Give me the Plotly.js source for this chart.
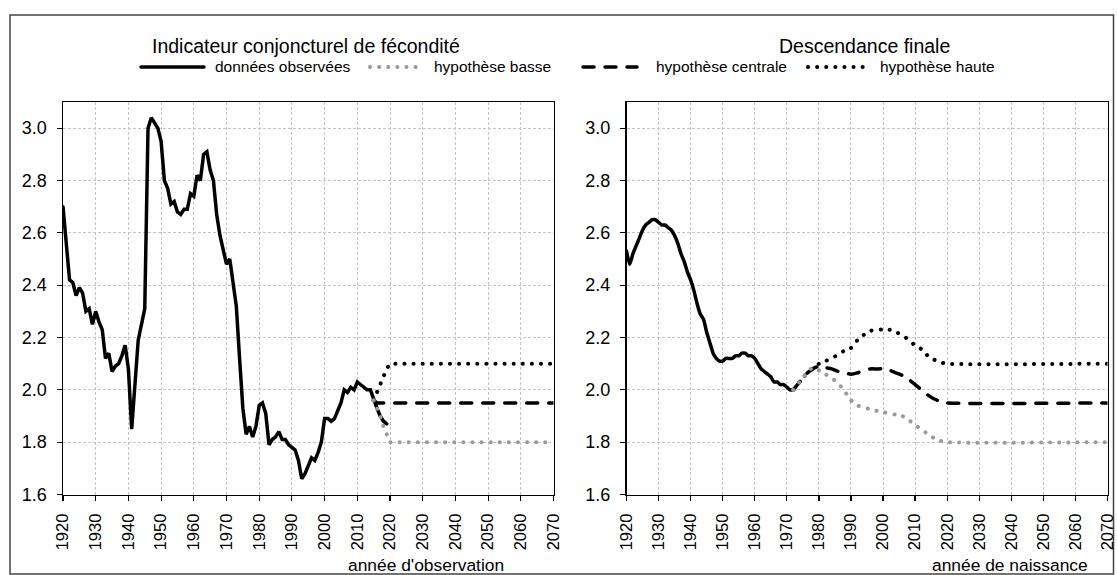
<!DOCTYPE html>
<html>
<head>
<meta charset="utf-8">
<script src="https://cdn.plot.ly/plotly-3.0.1.min.js"></script>
<style>
  html, body { margin: 0; padding: 0; background: #fff; }
  #chart { width: 1117px; height: 575px; }
  .scatterlayer .js-line { stroke-linecap: round; }
  .shapelayer path { stroke-linecap: round; }
</style>
</head>
<body>
<div id="chart"></div>
<script>
// ---------- Data: Indicateur conjoncturel de fécondité (année d'observation) ----------
const icfYears = [1920,1921,1922,1923,1924,1925,1926,1927,1928,1929,
  1930,1931,1932,1933,1934,1935,1936,1937,1938,1939,
  1940,1941,1942,1943,1944,1945,1946,1947,1948,1949,
  1950,1951,1952,1953,1954,1955,1956,1957,1958,1959,
  1960,1961,1962,1963,1964,1965,1966,1967,1968,1969,
  1970,1971,1972,1973,1974,1975,1976,1977,1978,1979,
  1980,1981,1982,1983,1984,1985,1986,1987,1988,1989,
  1990,1991,1992,1993,1994,1995,1996,1997,1998,1999,
  2000,2001,2002,2003,2004,2005,2006,2007,2008,2009,
  2010,2011,2012,2013,2014,2015,2016,2017,2018,2019];
const icfObserved = [2.70,2.56,2.42,2.41,2.36,2.39,2.37,2.30,2.31,2.25,
  2.30,2.26,2.23,2.12,2.14,2.07,2.09,2.10,2.13,2.17,
  2.08,1.85,2.00,2.19,2.25,2.31,3.00,3.04,3.02,3.00,
  2.95,2.80,2.77,2.71,2.72,2.68,2.67,2.69,2.69,2.75,
  2.74,2.82,2.80,2.90,2.91,2.84,2.80,2.67,2.59,2.53,
  2.48,2.50,2.42,2.32,2.12,1.93,1.83,1.86,1.82,1.86,
  1.94,1.95,1.91,1.79,1.81,1.82,1.84,1.81,1.81,1.79,
  1.78,1.77,1.73,1.66,1.68,1.71,1.74,1.73,1.76,1.80,
  1.89,1.89,1.88,1.89,1.92,1.95,2.00,1.99,2.01,2.00,
  2.03,2.02,2.01,2.00,2.00,1.96,1.93,1.90,1.88,1.87];

const icfLowYears = [2015,2016,2017,2018,2019,2020,2070];
const icfLow      = [1.96,1.93,1.90,1.86,1.83,1.80,1.80];
const icfMidYears = [2015,2016,2070];
const icfMid      = [1.96,1.95,1.95];
const icfHighYears = [2015,2016,2017,2018,2019,2020,2070];
const icfHigh      = [1.96,1.99,2.02,2.05,2.08,2.10,2.10];

// ---------- Data: Descendance finale (année de naissance) ----------
const dfYears = [1920,1921,1922,1923,1924,1925,1926,1927,1928,1929,
  1930,1931,1932,1933,1934,1935,1936,1937,1938,1939,
  1940,1941,1942,1943,1944,1945,1946,1947,1948,1949,
  1950,1951,1952,1953,1954,1955,1956,1957,1958,1959,
  1960,1961,1962,1963,1964,1965,1966,1967,1968,1969,
  1970,1971,1972];
const dfObserved = [2.53,2.48,2.52,2.55,2.58,2.61,2.63,2.64,2.65,2.65,
  2.64,2.63,2.63,2.62,2.61,2.59,2.56,2.52,2.49,2.45,
  2.42,2.38,2.33,2.29,2.27,2.22,2.18,2.14,2.12,2.11,
  2.11,2.12,2.12,2.12,2.13,2.13,2.14,2.14,2.13,2.13,
  2.12,2.10,2.08,2.07,2.06,2.05,2.03,2.03,2.02,2.02,
  2.01,2.00,2.00];

const dfProjYears = [1972,1974,1976,1978,1980,1982,1984,1986,1988,1990,
  1992,1994,1996,1998,2000,2002,2004,2006,2008,2010,
  2012,2014,2016,2018,2020,2070];
const dfHigh = [2.00,2.03,2.06,2.08,2.10,2.11,2.12,2.135,2.15,2.16,
  2.19,2.21,2.225,2.23,2.23,2.23,2.22,2.21,2.19,2.17,
  2.155,2.13,2.115,2.105,2.10,2.10];
const dfMid = [2.00,2.03,2.06,2.08,2.09,2.085,2.08,2.07,2.065,2.06,
  2.065,2.075,2.08,2.08,2.08,2.075,2.065,2.055,2.04,2.02,
  2.00,1.98,1.965,1.955,1.95,1.95];
const dfLow = [2.00,2.03,2.06,2.085,2.075,2.06,2.045,2.025,1.995,1.96,
  1.94,1.935,1.925,1.92,1.915,1.91,1.905,1.90,1.885,1.865,
  1.85,1.83,1.815,1.805,1.80,1.80];

// ---------- Texts ----------
const titleLeft = "Indicateur conjoncturel de fécondité";
const titleRight = "Descendance finale";
const legendLabels = ["données observées", "hypothèse basse", "hypothèse centrale", "hypothèse haute"];
const xTitleLeft = "année d'observation";
const xTitleRight = "année de naissance";
const yTickVals = [1.6,1.8,2.0,2.2,2.4,2.6,2.8,3.0];
const xTickVals = [1920,1930,1940,1950,1960,1970,1980,1990,2000,2010,2020,2030,2040,2050,2060,2070];

// ---------- Styles ----------
const FONT = "'Liberation Sans', Arial, sans-serif";
const W = 1117, H = 575;
const px = v => v / W;
const py = v => 1 - v / H;
const GRAY = "#9a9a9a";
const sSolid = {color: "#000", width: 3.5, dash: "solid"};
const sLow   = {color: GRAY, width: 4, dash: "0.1px,9px"};
const sMid   = {color: "#000", width: 3.5, dash: "11px,11px"};
const sHigh  = {color: "#000", width: 4, dash: "0.1px,9px"};

function tr(x, y, line, xa, ya, shape) {
  return {x: x, y: y, type: "scatter", mode: "lines", line: Object.assign({shape: shape || "linear", smoothing: 0.6}, line),
          xaxis: xa, yaxis: ya, showlegend: false, hoverinfo: "skip"};
}

const data = [
  tr(icfYears, icfObserved, sSolid, "x", "y"),
  tr(icfMidYears, icfMid, sMid, "x", "y"),
  tr(icfHighYears, icfHigh, sHigh, "x", "y"),
  tr(icfLowYears, icfLow, sLow, "x", "y"),
  tr(dfYears, dfObserved, sSolid, "x2", "y2", "spline"),
  tr(dfProjYears, dfMid, sMid, "x2", "y2", "spline"),
  tr(dfProjYears, dfHigh, sHigh, "x2", "y2", "spline"),
  tr(dfProjYears, dfLow, sLow, "x2", "y2", "spline")
];

function xAxis(domain, anchor) {
  return {
    domain: domain, anchor: anchor, range: [1920, 2070], tickmode: "array", tickvals: xTickVals,
    ticktext: xTickVals.map(String), tickangle: -90, ticks: "outside", ticklen: 5, tickwidth: 1.2, tickcolor: "#000",
    showline: true, linecolor: "#000", linewidth: 1.5, mirror: true,
    showgrid: true, gridcolor: "#c4c4c4", gridwidth: 1, griddash: "3px,2px",
    zeroline: false, ticklabelstandoff: 6, ticklabeloverflow: "allow",
    tickfont: {family: FONT, size: 16.5, color: "#000"}, fixedrange: true
  };
}
function yAxis(anchor) {
  return {
    domain: [py(494.5), py(102)], anchor: anchor, range: [1.6, 3.1], tickmode: "array", tickvals: yTickVals,
    ticktext: yTickVals.map(v => v.toFixed(1)), ticks: "outside", ticklen: 5, tickwidth: 1.2, tickcolor: "#000",
    showline: true, linecolor: "#000", linewidth: 1.5, mirror: true,
    showgrid: true, gridcolor: "#c4c4c4", gridwidth: 1, griddash: "3px,2px",
    zeroline: false, ticklabelstandoff: 6, ticklabeloverflow: "allow",
    tickfont: {family: FONT, size: 18, color: "#000"}, fixedrange: true
  };
}

// legend drawn as shapes + annotations
const legendY = py(67);
const legendItems = [
  {x0: 141, x1: 204, tx: 213, line: {color: "#000", width: 3.5, dash: "solid"}},
  {x0: 370, x1: 421, tx: 432, line: {color: GRAY, width: 4, dash: "0.1px,9px"}},
  {x0: 583, x1: 637, tx: 654, line: {color: "#000", width: 3.5, dash: "11px,11px"}},
  {x0: 808, x1: 867, tx: 878, line: {color: "#000", width: 4, dash: "0.1px,9px"}}
];

const shapes = [
  {type: "rect", xref: "paper", yref: "paper", x0: px(10), x1: px(1113.5), y0: py(574), y1: py(15),
   line: {color: "#444", width: 1.5}, fillcolor: "rgba(0,0,0,0)", layer: "below"}
];
const annotations = [
  {text: titleLeft, x: px(306), y: py(46), xref: "paper", yref: "paper", showarrow: false,
   xanchor: "center", yanchor: "middle", font: {family: FONT, size: 19.5, color: "#000"}},
  {text: titleRight, x: px(864), y: py(46), xref: "paper", yref: "paper", showarrow: false,
   xanchor: "center", yanchor: "middle", font: {family: FONT, size: 19.5, color: "#000"}},
  {text: xTitleLeft, x: px(426), y: py(565), xref: "paper", yref: "paper", showarrow: false,
   xanchor: "center", yanchor: "middle", font: {family: FONT, size: 17.4, color: "#000"}},
  {text: xTitleRight, x: px(1010), y: py(565), xref: "paper", yref: "paper", showarrow: false,
   xanchor: "center", yanchor: "middle", font: {family: FONT, size: 17.4, color: "#000"}}
];
legendItems.forEach((it, i) => {
  shapes.push({type: "line", xref: "paper", yref: "paper", x0: px(it.x0), x1: px(it.x1), y0: legendY, y1: legendY, line: it.line});
  annotations.push({text: legendLabels[i], x: px(it.tx), y: legendY, xref: "paper", yref: "paper", showarrow: false,
    xanchor: "left", yanchor: "middle", font: {family: FONT, size: 15.5, color: "#000"}});
});

const layout = {
  width: W, height: H,
  margin: {l: 0, r: 0, t: 0, b: 0, pad: 0},
  paper_bgcolor: "#fff", plot_bgcolor: "#fff",
  showlegend: false,
  xaxis: xAxis([px(63), px(553.5)], "y"),
  yaxis: yAxis("x"),
  xaxis2: xAxis([px(626.5), px(1107.5)], "y2"),
  yaxis2: yAxis("x2"),
  shapes: shapes,
  annotations: annotations,
  font: {family: FONT, color: "#000"}
};

Plotly.newPlot("chart", data, layout, {displayModeBar: false, staticPlot: true});
</script>
</body>
</html>
